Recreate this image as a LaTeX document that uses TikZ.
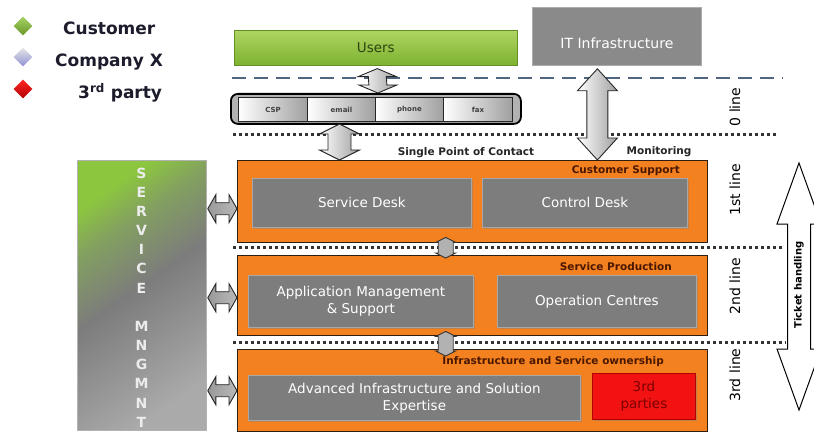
\documentclass[tikz,border=0pt]{standalone}
\usepackage{fontspec}
\setmainfont{DejaVu Sans}
\usetikzlibrary{calc,shadows,shapes.geometric}

% palette
\definecolor{orangebox}{HTML}{F4811F}
\definecolor{orangeedge}{HTML}{2E1E12}
\definecolor{greybox}{HTML}{7D7D7D}
\definecolor{greyedge}{HTML}{A8A8A8}
\definecolor{labelbrown}{HTML}{4A1800}
\definecolor{usergreenA}{HTML}{AED563}
\definecolor{usergreenB}{HTML}{7DB22F}
\definecolor{userink}{HTML}{2C4410}
\definecolor{dashblue}{HTML}{50667F}
\definecolor{legendink}{HTML}{1C1C2C}
\definecolor{itgrey}{HTML}{8A8A8A}
\definecolor{redbox}{HTML}{F21212}
\definecolor{redink}{HTML}{7A0000}
\definecolor{mgGreen}{HTML}{8CC63F}
\definecolor{mgMid}{HTML}{83A060}
\definecolor{mgGrey}{HTML}{7C7C7C}
\definecolor{mgLight}{HTML}{AAAAAA}

\pgfdeclareverticalshading{mngmtshade}{100bp}{%
  color(0bp)=(mgLight); color(25bp)=(mgLight); color(52bp)=(mgGrey);
  color(66bp)=(mgMid); color(75bp)=(mgGreen); color(100bp)=(mgGreen)}

% vertical double block arrow: [style]{top tip}{bottom tip}{half head}{half shaft}{head length}
\newcommand\vdarrow[6][]{%
  \path[#1] (#2) -- ($(#2)+(#4,#6)$) -- ($(#2)+(#5,#6)$) -- ($(#3)+(#5,-#6)$)
    -- ($(#3)+(#4,-#6)$) -- (#3) -- ($(#3)+(-#4,-#6)$) -- ($(#3)+(-#5,-#6)$)
    -- ($(#2)+(-#5,#6)$) -- ($(#2)+(-#4,#6)$) -- cycle;}
% horizontal double block arrow: [style]{left tip}{right tip}{half head}{half shaft}{head length}
\newcommand\hdarrow[6][]{%
  \path[#1] (#2) -- ($(#2)+(#6,-#4)$) -- ($(#2)+(#6,-#5)$) -- ($(#3)+(-#6,-#5)$)
    -- ($(#3)+(-#6,-#4)$) -- (#3) -- ($(#3)+(-#6,#4)$) -- ($(#3)+(-#6,#5)$)
    -- ($(#2)+(#6,#5)$) -- ($(#2)+(#6,#4)$) -- cycle;}

\begin{document}
\begin{tikzpicture}[x=1pt,y=-1pt,
  legdia/.style={diamond, aspect=1, minimum width=19pt, minimum height=19pt, inner sep=0pt},
  legtext/.style={font=\fontsize{17}{19}\selectfont\bfseries, text=legendink, inner sep=0pt},
  layerbox/.style={draw=orangeedge, line width=1.4pt, fill=orangebox, anchor=north west, inner sep=0pt},
  layerlabel/.style={font=\fontsize{10.5}{12}\selectfont\bfseries, text=labelbrown, inner sep=0pt, anchor=east},
  unitbox/.style={draw=greyedge, line width=0.8pt, fill=greybox, text=white, anchor=north west,
    font=\fontsize{13.5}{17}\selectfont, align=center, inner sep=0pt,
    drop shadow={opacity=0.45, shadow xshift=1.5pt, shadow yshift=-1.5pt}},
  partybox/.style={unitbox, fill=redbox, draw=red!70!black, text=redink},
  usersbox/.style={draw=usergreenB!80!black, line width=0.6pt, top color=usergreenA, bottom color=usergreenB,
    anchor=north west, inner sep=0pt, font=\fontsize{13.5}{15}\selectfont, text=userink},
  itbox/.style={draw=gray!65, line width=0.8pt, fill=itgrey, anchor=north west, inner sep=0pt},
  chanbar/.style={draw=black, line width=1.8pt, rounded corners=7pt, fill=gray!60, anchor=north west, inner sep=0pt},
  chanseg/.style={draw=black!85, line width=1pt, left color=white, right color=gray!75, anchor=north west,
    inner sep=0pt, font=\fontsize{7}{8}\selectfont\bfseries, text=black!75},
  mngmt/.style={draw=gray!60, line width=0.8pt, shade, shading=mngmtshade, shading angle=35, anchor=north west, inner sep=0pt},
  linelabel/.style={rotate=90, font=\fontsize{14}{16}\selectfont, text=black, inner sep=0pt},
  toplabel/.style={font=\fontsize{10.5}{12}\selectfont\bfseries, text=black!85, inner sep=0pt},
  blockarrow/.style={draw=black!85, line width=0.9pt, left color=white, right color=gray!75},
  hblock/.style={draw=black!85, line width=0.9pt, left color=gray!80, middle color=white, right color=gray!55},
  connblock/.style={draw=black!80, line width=0.9pt, left color=gray!60, middle color=white, right color=gray!60},
  dashline/.style={draw=dashblue, line width=2.8pt, dash pattern=on 14pt off 8pt},
  dotline/.style={draw=black!80, line width=3pt, dash pattern=on 3pt off 3pt},
]
\useasboundingbox (0,0) rectangle (814,433);
\clip (0,0) rectangle (814,433);
\fill[white] (0,0) rectangle (814,433);

% legend
\node[legdia, top color=mgGreen!80!white, bottom color=usergreenB!85!black] (dcust) at (23,26) {};
\node[legtext, anchor=west] (tcust) at (63,28) {Customer};
\node[legdia, top color=gray!20, bottom color=gray!55!blue!60] (dcomp) at (23,57) {};
\node[legtext, anchor=west] (tcomp) at (55,62) {Company X};
\node[legdia, top color=red!85!white, bottom color=red!70!black] (dthird) at (23,89) {};
\node[legtext, anchor=west] (tthird) at (78,93) {3\textsuperscript{rd} party};

% separators between the support lines
\coordinate (dashL) at (232,78);  \coordinate (dashR) at (783,78);
\coordinate (dotAL) at (233,135); \coordinate (dotAR) at (777,135);
\coordinate (dotBL) at (233,247); \coordinate (dotBR) at (782,247);
\coordinate (dotCL) at (233,342); \coordinate (dotCR) at (786,342);
\draw[dashline] (dashL) -- (dashR);
\draw[dotline] (dotAL) -- (dotAR);
\draw[dotline] (dotBL) -- (dotBR);
\draw[dotline] (dotCL) -- (dotCR);

% top row
\node[usersbox, minimum width=283pt, minimum height=35pt] (users) at (234,30) {Users};
\node[itbox, minimum width=169pt, minimum height=58pt] (it) at (532,7) {};
\node[font=\fontsize{14}{16}\selectfont, text=white, inner sep=0pt] (ittext) at ($(it.center)+(0,7)$) {IT Infrastructure};

% contact channels
\node[chanbar, minimum width=290pt, minimum height=30pt] (chan) at (230,93) {};
\node[chanseg, minimum width=69pt, minimum height=24pt] (csp) at (238,97) {CSP};
\node[chanseg, minimum width=68pt, minimum height=24pt] (email) at (307,97) {email};
\node[chanseg, minimum width=68pt, minimum height=24pt] (phone) at (375,97) {phone};
\node[chanseg, minimum width=69pt, minimum height=24pt] (fax) at (443,97) {fax};

% support layers
\node[layerbox, minimum width=470pt, minimum height=82pt] (cs) at (237,160) {};
\node[layerbox, minimum width=470pt, minimum height=80pt] (sp) at (237,255) {};
\node[layerbox, minimum width=470pt, minimum height=82pt] (iso) at (237,349) {};
\node[layerlabel] (lcs) at (680,171) {Customer Support};
\node[layerlabel] (lsp) at (672,267) {Service Production};
\node[layerlabel] (liso) at (664,362) {Infrastructure and Service ownership};

\node[unitbox, minimum width=219pt, minimum height=49pt] (sd) at (252,178) {Service Desk};
\node[unitbox, minimum width=205pt, minimum height=49pt] (cd) at (482,178) {Control Desk};
\node[unitbox, minimum width=225pt, minimum height=52pt] (am) at (248,275) {Application Management\\\& Support};
\node[unitbox, minimum width=199pt, minimum height=52pt] (oc) at (497,275) {Operation Centres};
\node[unitbox, minimum width=332pt, minimum height=45pt] (ai) at (248,375) {Advanced Infrastructure and Solution\\Expertise};
\node[partybox, minimum width=103pt, minimum height=46pt] (tp) at (592,373) {3rd\\parties};

% service management column
\node[mngmt, minimum width=129pt, minimum height=270pt] (sm) at (77,160) {};
\node[font=\fontsize{14}{19.15}\selectfont\bfseries, text=gray!15, align=center, inner sep=0pt] (smtext)
  at (141.5,297.5) {S\\E\\R\\V\\I\\C\\E\\\mbox{}\\M\\N\\G\\M\\N\\T};

% line labels
\node[linelabel] (l0) at (735,107) {0 line};
\node[linelabel] (l1) at (735,190) {1st line};
\node[linelabel] (l2) at (735,286) {2nd line};
\node[linelabel] (l3) at (735,375) {3rd line};

\node[toplabel] (spoc) at (466,153) {Single Point of Contact};
\node[toplabel] (mon) at (659,152) {Monitoring};

% connectors
\coordinate (uT) at ($(users.south)+(1.5,3)$);
\coordinate (uB) at ($(chan.north)+(2,0)$);
\vdarrow[blockarrow]{uT}{uB}{19}{9}{8}

\coordinate (cT) at ($(email.south)+(-2,2)$);
\coordinate (cB) at (cT |- cs.north);
\vdarrow[blockarrow]{cT}{cB}{20}{11.5}{10}

\coordinate (iT) at ($(it.south)+(-19.5,3)$);
\coordinate (iB) at (iT |- cs.north);
\vdarrow[blockarrow]{iT}{iB}{20}{10.5}{22}

\coordinate (s1L) at ($(sm.east |- cs.center)+(1,7)$);
\coordinate (s1R) at (s1L -| cs.west);
\hdarrow[hblock]{s1L}{s1R}{14}{6}{8}
\coordinate (s2L) at ($(sm.east |- sp.center)+(1,2)$);
\coordinate (s2R) at (s2L -| sp.west);
\hdarrow[hblock]{s2L}{s2R}{14}{6}{8}
\coordinate (s3L) at ($(sm.east |- iso.center)+(1,0)$);
\coordinate (s3R) at (s3L -| iso.west);
\hdarrow[hblock]{s3L}{s3R}{14}{6}{8}

\coordinate (k1T) at ($(cs.south)+(-27,-6)$);
\coordinate (k1B) at ($(sp.north)+(-27,3)$);
\vdarrow[connblock]{k1T}{k1B}{10}{7.5}{5}
\coordinate (k2T) at ($(sp.south)+(-27,-5)$);
\coordinate (k2B) at ($(iso.north)+(-27,7)$);
\vdarrow[connblock]{k2T}{k2B}{10}{7.5}{5}

% ticket handling
\coordinate (tkTop) at (799,163);
\coordinate (tkBot) at (799,410);
\vdarrow[draw=black, fill=white, line width=1pt]{tkTop}{tkBot}{22}{11.5}{61}
\node[rotate=90, font=\fontsize{10}{12}\selectfont\bfseries, inner sep=0pt] (tktext) at (799,285) {Ticket handling};
\end{tikzpicture}
\end{document}
